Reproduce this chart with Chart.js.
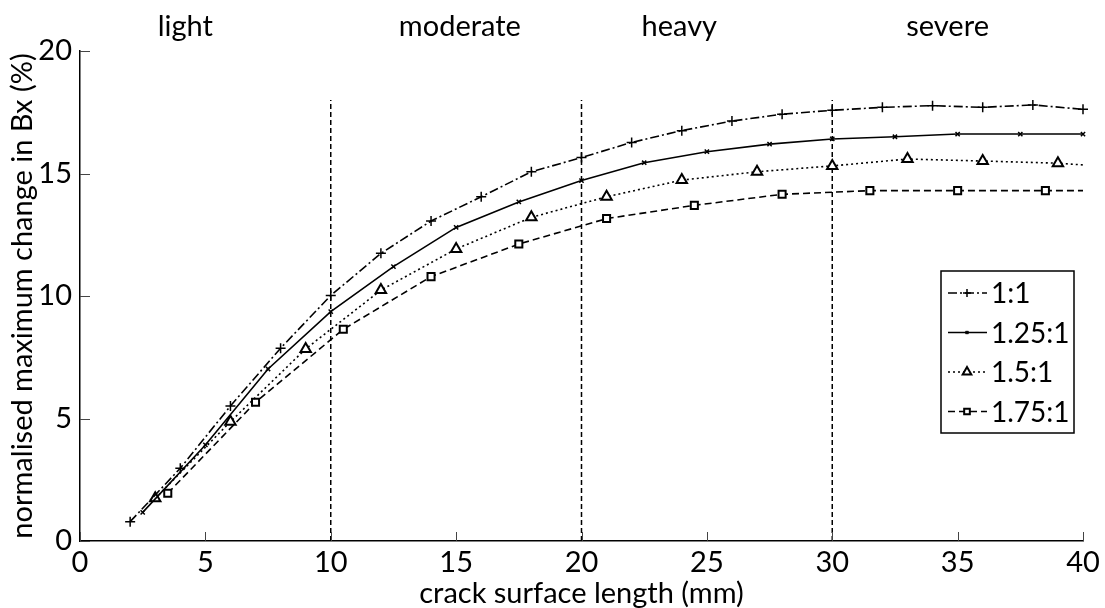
<!DOCTYPE html>
<html>
<head>
<meta charset="utf-8">
<script src="https://cdn.jsdelivr.net/npm/chart.js@4.4.1/dist/chart.umd.min.js"></script>
<style>
  html, body { margin: 0; padding: 0; background: #fff; }
  #grafico { display: block; }
</style>
</head>
<body>
<canvas id="grafico" width="1105" height="608"></canvas>
<script>
// data
const seriesNames = ['1:1', '1.25:1', '1.5:1', '1.75:1'];

const x11 = [2, 4, 6, 8, 10, 12, 14, 16, 18, 20, 22, 24, 26, 28, 30, 32, 34, 36, 38, 40];
const y11 = [0.79, 2.97, 5.51, 7.87, 10.02, 11.74, 13.06, 14.05, 15.07, 15.65, 16.27, 16.75, 17.14, 17.42, 17.58, 17.70, 17.77, 17.70, 17.80, 17.62];

const x125 = [2.5, 5, 7.5, 10, 12.5, 15, 17.5, 20, 22.5, 25, 27.5, 30, 32.5, 35, 37.5, 40];
const y125 = [1.17, 3.92, 7.02, 9.36, 11.2, 12.8, 13.84, 14.71, 15.44, 15.89, 16.2, 16.41, 16.5, 16.61, 16.61, 16.61];

const x15 = [3, 6, 9, 12, 15, 18, 21, 24, 27, 30, 33, 36, 39, 40];
const y15 = [1.74, 4.87, 7.84, 10.24, 11.92, 13.21, 14.05, 14.73, 15.07, 15.31, 15.59, 15.51, 15.42, 15.35];

const x175 = [3.5, 7, 10.5, 14, 17.5, 21, 24.5, 28, 31.5, 35, 38.5, 40];
const y175 = [1.95, 5.66, 8.64, 10.79, 12.12, 13.16, 13.7, 14.15, 14.3, 14.3, 14.3, 14.3];

// damage classes and the boundaries between them
const regionNames = ['light', 'moderate', 'heavy', 'severe'];
const regionLabelX = [4.2, 15.15, 23.9, 34.6];
const boundaries = [10, 20, 30];
const boundaryTop = 18;

const xTicks = [0, 5, 10, 15, 20, 25, 30, 35, 40];
const yTicks = [0, 5, 10, 15, 20];

const FONT = 'Lato';
const fonte = { family: FONT, size: 29 };

function pontos(xs, ys) {
  return xs.map((x, i) => ({ x: x, y: ys[i] }));
}

// the last point of the two lower curves has no marker
function raios(n, r, semUltimo) {
  return Array.from({ length: n }, (_, i) => (semUltimo && i === n - 1) ? 0 : r);
}

const estilos = [
  { dash: [9, 3, 2, 3], style: 'cross', r: 5, bw: 1.5, fill: '#000' },
  { dash: [], style: 'crossRot', r: 3, bw: 1.5, fill: '#000' },
  { dash: [2, 3], style: 'triangle', r: 6, bw: 2, fill: '#fff' },
  { dash: [7, 4], style: 'rect', r: 5, bw: 2, fill: '#fff' }
];

const dadosX = [x11, x125, x15, x175];
const dadosY = [y11, y125, y15, y175];

const datasets = seriesNames.map((nome, k) => ({
  label: nome,
  data: pontos(dadosX[k], dadosY[k]),
  borderColor: '#000',
  borderWidth: 1.6,
  borderDash: estilos[k].dash,
  pointStyle: estilos[k].style,
  pointRadius: raios(dadosX[k].length, estilos[k].r, k >= 2),
  pointBorderWidth: estilos[k].bw,
  pointBorderColor: '#000',
  pointBackgroundColor: estilos[k].fill,
  fill: false,
  tension: 0,
  clip: false
}));

boundaries.forEach(b => {
  datasets.push({
    label: 'limite',
    data: [{ x: b, y: 0 }, { x: b, y: boundaryTop }],
    borderColor: '#000',
    borderWidth: 1.5,
    borderDash: [5, 3],
    pointRadius: 0,
    fill: false,
    clip: false
  });
});

// inward ticks, region names and the boxed legend
const extras = {
  id: 'extras',
  afterDraw(chart) {
    const ctx = chart.ctx;
    const sx = chart.scales.x;
    const sy = chart.scales.y;
    const area = chart.chartArea;
    ctx.save();
    ctx.strokeStyle = '#444';
    ctx.lineWidth = 1;
    ctx.setLineDash([]);
    xTicks.forEach(v => {
      const px = Math.round(sx.getPixelForValue(v)) + 0.5;
      ctx.beginPath();
      ctx.moveTo(px, area.bottom);
      ctx.lineTo(px, area.bottom - 9);
      ctx.stroke();
    });
    yTicks.forEach(v => {
      const py = Math.round(sy.getPixelForValue(v)) + 0.5;
      ctx.beginPath();
      ctx.moveTo(area.left, py);
      ctx.lineTo(area.left + 10, py);
      ctx.stroke();
    });

    ctx.fillStyle = '#000';
    ctx.font = fonte.size + 'px ' + FONT;
    ctx.textAlign = 'center';
    ctx.textBaseline = 'middle';
    regionNames.forEach((nome, i) => {
      ctx.fillText(nome, sx.getPixelForValue(regionLabelX[i]), 27);
    });

    // legend
    const bx = 941, by = 271, bw = 133, bh = 162;
    ctx.strokeStyle = '#000';
    ctx.lineWidth = 1.5;
    ctx.strokeRect(bx, by, bw, bh);
    ctx.textAlign = 'left';
    ctx.font = '28px ' + FONT;
    seriesNames.forEach((nome, k) => {
      const ds = chart.data.datasets[k];
      const cy = by + 22 + k * 39.5;
      ctx.strokeStyle = '#000';
      ctx.lineWidth = 1.5;
      ctx.setLineDash(ds.borderDash);
      ctx.beginPath();
      ctx.moveTo(bx + 7, cy);
      ctx.lineTo(bx + 46, cy);
      ctx.stroke();
      ctx.setLineDash([]);
      ctx.fillStyle = ds.pointBackgroundColor;
      ctx.lineWidth = ds.pointBorderWidth;
      Chart.helpers.drawPoint(ctx, {
        pointStyle: ds.pointStyle,
        radius: Math.max(...ds.pointRadius) - 1,
        rotation: 0,
        borderWidth: ds.pointBorderWidth
      }, bx + 26, cy);
      ctx.fillStyle = '#000';
      ctx.fillText(nome, bx + 50, cy + 1);
    });
    ctx.restore();
  }
};

const grafico = document.getElementById('grafico');
const ctx = grafico.getContext('2d');

const myChart = new Chart(ctx, {
  type: 'line',
  data: { datasets: datasets },
  options: {
    responsive: false,
    animation: false,
    layout: { padding: { top: 51, right: 22, left: 0, bottom: 0 } },
    plugins: { legend: { display: false }, tooltip: { enabled: false } },
    scales: {
      x: {
        type: 'linear',
        min: 0,
        max: 40,
        ticks: { stepSize: 5, font: fonte, color: '#000', padding: 4, maxRotation: 0 },
        grid: { display: false, drawTicks: false },
        border: { color: '#000', width: 1.5 },
        title: { display: true, text: 'crack surface length (mm)', font: fonte, color: '#000', padding: { top: 0, bottom: -3 } },
        afterFit: s => { s.height = 67; }
      },
      y: {
        type: 'linear',
        min: 0,
        max: 20,
        ticks: { stepSize: 5, font: fonte, color: '#000', padding: 8 },
        grid: { display: false, drawTicks: false },
        border: { color: '#000', width: 1.5 },
        title: { display: true, text: 'normalised maximum change in Bx (%)', font: fonte, color: '#000', padding: { top: 5, bottom: 0 } },
        afterFit: s => { s.width = 80; }
      }
    }
  },
  plugins: [extras]
});
</script>
</body>
</html>
